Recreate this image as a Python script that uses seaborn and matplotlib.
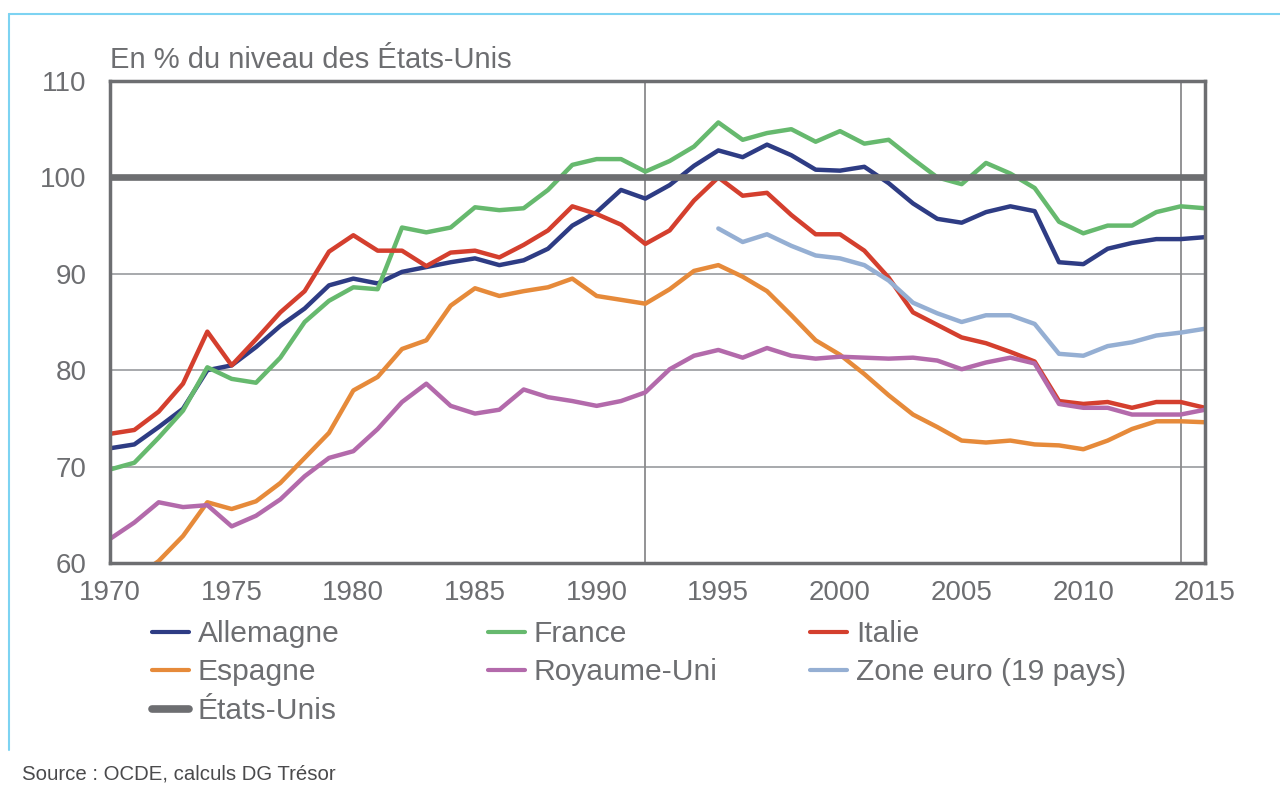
import numpy as np
import pandas as pd
import seaborn as sns
import matplotlib.pyplot as plt
from matplotlib.lines import Line2D

# PIB par habitant, en % du niveau des Etats-Unis
annees = list(range(1970, 2016))

allemagne = [71.9, 72.3, 74.1, 76.0, 80.0, 80.5, 82.4, 84.6, 86.4, 88.8,
             89.5, 89.0, 90.2, 90.7, 91.2, 91.6, 90.9, 91.4, 92.6, 95.0,
             96.4, 98.7, 97.8, 99.2, 101.2, 102.8, 102.1, 103.4, 102.3, 100.8,
             100.7, 101.1, 99.4, 97.3, 95.7, 95.3, 96.4, 97.0, 96.5, 91.2,
             91.0, 92.6, 93.2, 93.6, 93.6, 93.8]
france = [69.7, 70.4, 73.0, 75.8, 80.3, 79.1, 78.7, 81.3, 85.0, 87.2,
          88.6, 88.4, 94.8, 94.3, 94.8, 96.9, 96.6, 96.8, 98.7, 101.3,
          101.9, 101.9, 100.6, 101.7, 103.2, 105.7, 103.9, 104.6, 105.0, 103.7,
          104.8, 103.5, 103.9, 101.9, 100.0, 99.3, 101.5, 100.4, 98.9, 95.4,
          94.2, 95.0, 95.0, 96.4, 97.0, 96.8]
italie = [73.4, 73.8, 75.7, 78.6, 84.0, 80.5, 83.2, 86.0, 88.2, 92.3,
          94.0, 92.4, 92.4, 90.8, 92.2, 92.4, 91.7, 93.0, 94.5, 97.0,
          96.2, 95.1, 93.1, 94.5, 97.6, 100.0, 98.1, 98.4, 96.1, 94.1,
          94.1, 92.4, 89.6, 86.0, 84.7, 83.4, 82.8, 81.9, 80.9, 76.8,
          76.5, 76.7, 76.1, 76.7, 76.7, 76.1]
espagne = [57.0, 58.4, 60.2, 62.8, 66.3, 65.6, 66.4, 68.3, 70.9, 73.5,
           77.9, 79.3, 82.2, 83.1, 86.7, 88.5, 87.7, 88.2, 88.6, 89.5,
           87.7, 87.3, 86.9, 88.4, 90.3, 90.9, 89.7, 88.2, 85.7, 83.1,
           81.6, 79.6, 77.4, 75.4, 74.1, 72.7, 72.5, 72.7, 72.3, 72.2,
           71.8, 72.7, 73.9, 74.7, 74.7, 74.6]
royaume_uni = [62.5, 64.2, 66.3, 65.8, 66.0, 63.8, 64.9, 66.6, 69.0, 70.9,
               71.6, 73.9, 76.7, 78.6, 76.3, 75.5, 75.9, 78.0, 77.2, 76.8,
               76.3, 76.8, 77.7, 80.1, 81.5, 82.1, 81.3, 82.3, 81.5, 81.2,
               81.4, 81.3, 81.2, 81.3, 81.0, 80.1, 80.8, 81.3, 80.7, 76.5,
               76.1, 76.1, 75.4, 75.4, 75.4, 75.9]
zone_euro = [None] * 25 + [94.7, 93.3, 94.1, 92.9, 91.9,
                           91.6, 90.9, 89.3, 87.0, 85.9, 85.0, 85.7, 85.7, 84.8, 81.7,
                           81.5, 82.5, 82.9, 83.6, 83.9, 84.3]
etats_unis = [100.0] * len(annees)

pays = ['Allemagne', 'France', 'Italie', 'Espagne', 'Royaume-Uni', 'Zone euro (19 pays)']
couleurs = ['#2e3c84', '#66b96e', '#d43f2e', '#e68a3a', '#b36aab', '#95afd3']
gris = '#6d6e71'

df = pd.DataFrame({'annee': annees, 'Allemagne': allemagne, 'France': france,
                   'Italie': italie, 'Espagne': espagne, 'Royaume-Uni': royaume_uni,
                   'Zone euro (19 pays)': zone_euro})
df = df.melt(id_vars='annee', var_name='pays', value_name='valeur')
df['valeur'] = df['valeur'].astype(float)
df = df.dropna()

sns.set_theme(style='white')
plt.rcParams['font.family'] = ['Liberation Sans', 'DejaVu Sans']

fig = plt.figure(figsize=(12.8, 7.94), dpi=100)
ax = fig.add_axes([110 / 1280, 1 - 563 / 794, (1205 - 110) / 1280, (563 - 81) / 794])

ax.axvline(1992, color='#8a8a8c', lw=1.3, zorder=1)
ax.axvline(2014, color='#8a8a8c', lw=1.3, zorder=1)

sns.lineplot(data=df, x='annee', y='valeur', hue='pays', hue_order=pays,
             palette=dict(zip(pays, couleurs)), linewidth=3.2, legend=False, ax=ax)
sns.lineplot(x=annees, y=etats_unis, color=gris, linewidth=4.8, ax=ax, zorder=5)

ax.set_xlim(1970, 2015)
ax.set_ylim(60, 110)
ax.set_xticks(range(1970, 2016, 5))
ax.set_yticks(range(60, 111, 10))
ax.grid(axis='y', color='#a7a9ac', lw=1.4)
ax.set_axisbelow(True)
ax.set_xlabel('')
ax.set_ylabel('')
ax.tick_params(axis='both', length=0, labelsize=20, labelcolor=gris)
ax.tick_params(axis='x', pad=12)
ax.tick_params(axis='y', pad=17)
for s in ax.spines.values():
    s.set_color(gris)
    s.set_linewidth(2.5)
    s.set_zorder(6)

fig.text(110 / 1280, 1 - 68 / 794, 'En % du niveau des États-Unis',
         fontsize=21, color=gris, ha='left', va='baseline')

# legende en trois colonnes
colonnes = [
    (152, [('Allemagne', couleurs[0], 3), ('Espagne', couleurs[3], 3), ('États-Unis', gris, 5.5)]),
    (488, [('France', couleurs[1], 3), ('Royaume-Uni', couleurs[4], 3)]),
    (810, [('Italie', couleurs[2], 3), ('Zone euro (19 pays)', couleurs[5], 3)]),
]
for x0, items in colonnes:
    handles = [Line2D([], [], color=c, lw=w, solid_capstyle='round') for _, c, w in items]
    labels = [n for n, _, _ in items]
    fig.legend(handles, labels, loc='upper left', bbox_to_anchor=(x0 / 1280, 1 - 620 / 794),
               frameon=False, fontsize=21.6, labelcolor=gris, handlelength=1.23,
               handletextpad=0.3, labelspacing=0.35, borderpad=0, borderaxespad=0)

fig.text(22 / 1280, 1 - 780 / 794, 'Source : OCDE, calculs DG Trésor',
         fontsize=14.7, color='#4a4a4c', ha='left', va='baseline')

# cadre bleu clair
fig.add_artist(Line2D([9 / 1280, 9 / 1280], [1 - 750 / 794, 1 - 14 / 794],
                      transform=fig.transFigure, color='#7dd3f2', lw=1.5))
fig.add_artist(Line2D([9 / 1280, 1], [1 - 14 / 794, 1 - 14 / 794],
                      transform=fig.transFigure, color='#7dd3f2', lw=1.5))

fig.savefig('out.png', dpi=100)
